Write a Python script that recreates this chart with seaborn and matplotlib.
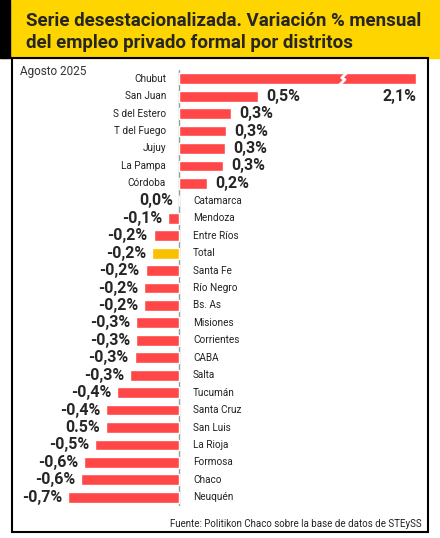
import matplotlib
matplotlib.use("Agg")
import matplotlib.pyplot as plt
import seaborn as sns
import pandas as pd
from matplotlib.patches import Rectangle

sns.set_theme(style="white")
plt.rcParams['font.family'] = ['Roboto', 'DejaVu Sans']

districts = ["Chubut","San Juan","S del Estero","T del Fuego","Jujuy","La Pampa","Córdoba",
             "Catamarca","Mendoza","Entre Ríos","Total","Santa Fe","Río Negro","Bs. As",
             "Misiones","Corrientes","CABA","Salta","Tucumán","Santa Cruz","San Luis",
             "La Rioja","Formosa","Chaco","Neuquén"]
values = [2.1,0.5,0.33,0.30,0.29,0.28,0.18,0.0,-0.07,-0.16,-0.17,-0.21,-0.22,-0.22,
          -0.27,-0.27,-0.28,-0.31,-0.39,-0.46,-0.46,-0.53,-0.60,-0.62,-0.70]
labels = ["2,1%","0,5%","0,3%","0,3%","0,3%","0,3%","0,2%","0,0%","-0,1%","-0,2%","-0,2%",
          "-0,2%","-0,2%","-0,2%","-0,3%","-0,3%","-0,3%","-0,3%","-0,4%","-0,4%","0.5%",
          "-0,5%","-0,6%","-0,6%","-0,7%"]

W, H = 440, 538
fig = plt.figure(figsize=(W/100, H/100), dpi=100)
fig.patches.append(Rectangle((0, 1-58/H), 1, 58/H, transform=fig.transFigure, color="#FFD500", zorder=0))
fig.patches.append(Rectangle((0, 1-58/H), 10/W, 58/H, transform=fig.transFigure, color="black", zorder=1))
fig.patches.append(Rectangle((12/W, 6/H), (W-24)/W, (H-58-6)/H, transform=fig.transFigure,
                             fill=False, edgecolor="black", lw=1.5, zorder=1))
fig.text(26/W, 1-21/H, "Serie desestacionalizada. Variación % mensual", fontsize=13.5,
         fontweight="bold", va="center", ha="left")
fig.text(26/W, 1-43/H, "del empleo privado formal por distritos", fontsize=13.5,
         fontweight="bold", va="center", ha="left")
fig.text(20/W, 1-71/H, "Agosto 2025", fontsize=8.5, color="#333333", va="center")
fig.text(422/W, 1-524/H, "Fuente: Politikon Chaco sobre la base de datos de STEySS", fontsize=7,
         ha="right", va="center", color="#222222")

xmin, xmax = (10-179)/158, (420-179)/158
ax = fig.add_axes([10/W, 1-506/H, 410/W, 436/H])
df = pd.DataFrame({"d": districts, "v": [min(v, 1.5) for v in values]})
colors = ["#F9C000" if d == "Total" else "#FF4747" for d in districts]
sns.barplot(data=df, x="v", y="d", hue="d", palette=colors, orient="h", width=0.62,
            saturation=1, legend=False, ax=ax, zorder=2)
ax.set_xlim(xmin, xmax)
ax.set_ylim(len(districts)-0.5, -0.5)
ax.axvline(0, color="#999999", lw=1, zorder=1)
ax.axis("off")
k = 1/158
for i, (d, v, lab) in enumerate(zip(districts, values, labels)):
    if v > 0:
        ax.text(-13*k, i, d, ha="right", va="center", fontsize=7.2, color="#222222")
        if d == "Chubut":
            ax.plot([1.02, 1.05, 1.03, 1.06], [i+0.32, 0.05+i, i-0.05, i-0.32], color="white", lw=2, zorder=3)
            ax.text(1.5, i+1, lab, ha="right", va="center", fontsize=11.5, fontweight="bold")
        else:
            ax.text(v + 8*k, i, lab, ha="left", va="center", fontsize=11.5, fontweight="bold")
    else:
        ax.text(14*k, i, d, ha="left", va="center", fontsize=7.2, color="#222222")
        ax.text(v - 6*k, i, lab, ha="right", va="center", fontsize=11.5, fontweight="bold")
fig.savefig("out.png", dpi=100)
